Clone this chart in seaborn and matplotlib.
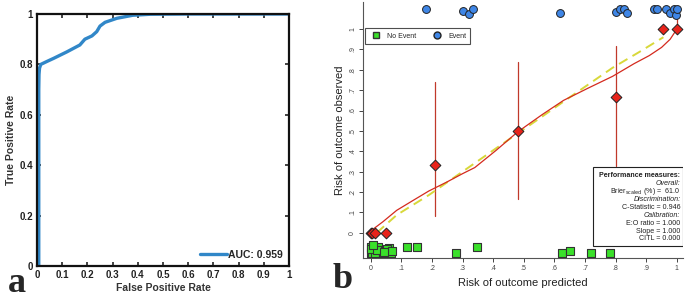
import numpy as np
import pandas as pd
import matplotlib
matplotlib.use("Agg")
import matplotlib.pyplot as plt
from matplotlib.patches import Rectangle
from matplotlib.lines import Line2D
import seaborn as sns

sns.set_style("ticks")
plt.rcParams['font.family'] = ['Liberation Sans', 'DejaVu Sans']

# ---- panel a: ROC curve
roc_fpr = [0.007, 0.007, 0.008, 0.010, 0.015, 0.04, 0.066, 0.119, 0.17, 0.19, 0.218, 0.237,
           0.25, 0.27, 0.317, 0.38, 0.45, 0.6, 1.0]
roc_tpr = [0.0, 0.70, 0.76, 0.785, 0.80, 0.812, 0.824, 0.85, 0.877, 0.90, 0.913, 0.93,
           0.952, 0.967, 0.983, 0.995, 0.999, 1.0, 1.0]
auc_label = 'AUC: 0.959'

# ---- panel b: calibration plot
no_event_x = [0.0, 0.003, 0.015, 0.04, 0.066, 0.28, 0.624, 0.72, 0.78,
              0.0, 0.025, 0.06, 0.12, 0.15, 0.346, 0.651,
              0.0, 0.02, 0.055, 0.07, 0.045, 0.008]
no_event_y = [-0.098, -0.098, -0.098, -0.098, -0.098, -0.098, -0.098, -0.098, -0.098,
              -0.07, -0.07, -0.075, -0.072, -0.071, -0.068, -0.09,
              -0.08, -0.085, -0.08, -0.088, -0.095, -0.062]
event_x = [0.18, 0.30, 0.32, 0.335, 0.617, 0.80, 0.813, 0.828, 0.837,
           0.926, 0.935, 0.965, 0.978, 0.992, 0.998, 1.0]
event_y = [1.10, 1.088, 1.072, 1.10, 1.077, 1.083, 1.10, 1.10, 1.08,
           1.10, 1.10, 1.10, 1.077, 1.10, 1.069, 1.10]

group_x = [0.0, 0.005, 0.015, 0.05, 0.21, 0.48, 0.80, 0.955, 1.0]
group_y = [0.0, 0.0, 0.0, 0.0, 0.333, 0.5, 0.667, 1.0, 1.0]
ci_low = [None, None, None, None, 0.082, 0.165, 0.33, None, 1.0]
ci_high = [None, None, None, None, 0.738, 0.837, 0.917, None, 1.06]

smooth_x = [0.01, 0.04, 0.085, 0.14, 0.19, 0.25, 0.30, 0.34, 0.41, 0.48, 0.56, 0.63,
            0.71, 0.79, 0.86, 0.91, 0.95, 0.978, 1.0]
smooth_y = [0.02, 0.054, 0.11, 0.16, 0.205, 0.25, 0.29, 0.32, 0.405, 0.495, 0.58, 0.65,
            0.71, 0.768, 0.83, 0.87, 0.91, 0.95, 1.0]
ideal_x = [0.02, 0.085, 0.19, 0.30, 0.41, 0.55, 0.65, 0.79, 0.88, 0.956]
ideal_y = [0.0, 0.087, 0.185, 0.30, 0.415, 0.56, 0.665, 0.81, 0.89, 0.96]

tick_vals = [0, 0.1, 0.2, 0.3, 0.4, 0.5, 0.6, 0.7, 0.8, 0.9, 1.0]
tick_text_b = ['0', '.1', '.2', '.3', '.4', '.5', '.6', '.7', '.8', '.9', '1']
tick_text_a = ['0', '0.1', '0.2', '0.3', '0.4', '0.5', '0.6', '0.7', '0.8', '0.9', '1']
perf_lines = [('Performance measures:', 'bold', 'normal'),
              ('Overall:', 'normal', 'italic'),
              ('Brier$_{\\mathrm{scaled}}$ (%) =  61.0', 'normal', 'normal'),
              ('Discrimination:', 'normal', 'italic'),
              ('C-Statistic = 0.946', 'normal', 'normal'),
              ('Calibration:', 'normal', 'italic'),
              ('E:O ratio = 1.000', 'normal', 'normal'),
              ('Slope = 1.000', 'normal', 'normal'),
              ('CITL = 0.000', 'normal', 'normal')]

fig = plt.figure(figsize=(6.85, 3.01), dpi=100)

# ================= panel a
ax1 = fig.add_axes([37/685, 35/301, 252/685, 252/301])
roc_df = pd.DataFrame({'fpr': roc_fpr, 'tpr': roc_tpr})
sns.lineplot(data=roc_df, x='fpr', y='tpr', sort=False, estimator=None, color='#3187c8',
             lw=2.4, ax=ax1, label=auc_label)
ax1.set_xlim(0, 1)
ax1.set_ylim(0, 1)
ax1.set_xticks(tick_vals)
ax1.set_xticklabels(tick_text_a)
ax1.set_yticks([0, 0.2, 0.4, 0.6, 0.8, 1.0])
ax1.set_yticklabels(['0', '0.2', '0.4', '0.6', '0.8', '1'])
ax1.tick_params(direction='in', top=True, right=True, length=3, width=1.2,
                labelsize=7, colors='#222222', pad=3)
for lab in ax1.get_xticklabels() + ax1.get_yticklabels():
    lab.set_fontweight('bold')
for sp in ax1.spines.values():
    sp.set_linewidth(1.6)
    sp.set_color('#111111')
ax1.set_xlabel('False Positive Rate', fontsize=7.5, fontweight='bold', color='#333333', labelpad=2)
ax1.set_ylabel('True Positive Rate', fontsize=7.5, fontweight='bold', color='#333333', labelpad=2)
leg1 = ax1.legend(loc='lower right', frameon=False, handlelength=2.6, borderaxespad=0.2,
                  handletextpad=0.1, prop={'weight': 'bold', 'size': 7.5})

# ================= panel b
ax2 = fig.add_axes([363/685, 43/301, 320/685, 256/301])
ax2.set_xlim(-0.025, 1.02)
ax2.set_ylim(-0.124, 1.133)

for x, lo, hi in zip(group_x, ci_low, ci_high):
    if lo is not None:
        ax2.plot([x, x], [lo, hi], color='#c0392b', lw=0.9, zorder=1)

sns.lineplot(x=ideal_x, y=ideal_y, color='#d8d83a', lw=1.4, ax=ax2, zorder=2)
ax2.lines[-1].set_linestyle((0, (5, 3)))
sns.lineplot(x=smooth_x, y=smooth_y, color='#d42a1e', lw=0.9, ax=ax2, zorder=3)

sns.scatterplot(x=no_event_x, y=no_event_y, marker='s', s=30, color='#3ae02a',
                edgecolor='#333333', linewidth=0.8, ax=ax2, zorder=4)
sns.scatterplot(x=event_x, y=event_y, marker='o', s=32, color='#3f86e6',
                edgecolor='#222222', linewidth=0.7, ax=ax2, zorder=4)
sns.scatterplot(x=group_x, y=group_y, marker='D', s=30, color='#e8231a',
                edgecolor='#222222', linewidth=0.7, ax=ax2, zorder=5)

ax2.set_xticks(tick_vals)
ax2.set_xticklabels(tick_text_b)
ax2.set_yticks(tick_vals)
ax2.set_yticklabels(tick_text_b, rotation=90, va='center')
ax2.tick_params(direction='out', length=3, width=0.7, labelsize=5, colors='#444444', pad=2)
sns.despine(ax=ax2)
for sp in ['left', 'bottom']:
    ax2.spines[sp].set_linewidth(0.8)
    ax2.spines[sp].set_color('#555555')
ax2.set_xlabel('Risk of outcome predicted', fontsize=8, color='#222222', labelpad=4)
ax2.set_ylabel('Risk of outcome observed', fontsize=8, color='#222222', labelpad=3)

handles = [Line2D([], [], marker='s', ls='', color='#3ae02a', markeredgecolor='#333333', markersize=4.5),
           Line2D([], [], marker='o', ls='', color='#3f86e6', markeredgecolor='#222222', markersize=5)]
leg2 = ax2.legend(handles, ['No Event', 'Event'], loc='upper left', ncol=2,
                  bbox_to_anchor=(0.005, 0.897), fontsize=5, frameon=True, fancybox=False,
                  edgecolor='#222222', borderpad=0.6, columnspacing=2.0, handletextpad=0.6,
                  borderaxespad=0)
leg2.get_frame().set_linewidth(0.8)

box_left, box_bottom, box_right, box_top = 0.72, 0.047, 1.0, 0.355
ax2.add_patch(Rectangle((box_left, box_bottom), box_right - box_left, box_top - box_bottom,
                        transform=ax2.transAxes, facecolor='white', edgecolor='#222222',
                        lw=0.8, zorder=6))
step = (box_top - box_bottom - 0.03) / len(perf_lines)
for i, (txt, w, st) in enumerate(perf_lines):
    ax2.text(box_right - 0.008, box_top - 0.018 - step * (i + 0.5), txt, transform=ax2.transAxes,
             ha='right', va='center', fontsize=5.1, fontweight=w, fontstyle=st,
             color='#222222', zorder=7)

fig.text(8/685, 1 - 283/301, 'a', fontsize=26, fontweight='bold', family='Liberation Serif',
         va='center', ha='left')
fig.text(333/685, 1 - 280/301, 'b', fontsize=26, fontweight='bold', family='Liberation Serif',
         va='center', ha='left')

fig.savefig('out.png', dpi=100)
